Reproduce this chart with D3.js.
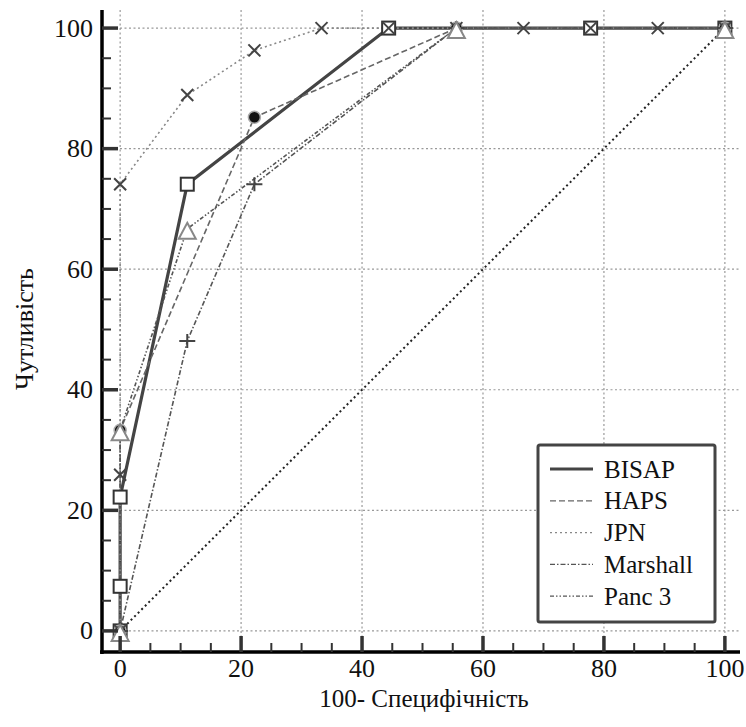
<!DOCTYPE html>
<html>
  <head>
    <meta charset="utf-8">
    <title>ROC</title>
  </head>
  <body style="margin:0; background:#fff">
    <div id="vis"></div>
    <script src="https://d3js.org/d3.v7.min.js"></script>
    <script>
    // data: x = 100 - specificity, y = sensitivity
    let bisap_x = [0, 0, 0, 11.1, 44.4, 77.8, 100];
    let bisap_y = [0, 7.4, 22.2, 74.1, 100, 100, 100];
    let haps_x = [0, 0, 22.2, 55.6, 100];
    let haps_y = [0, 33.3, 85.2, 100, 100];
    let jpn_x = [0, 0, 0, 11.1, 22.2, 33.3, 44.4, 55.6, 66.7, 77.8, 88.9, 100];
    let jpn_y = [0, 25.9, 74.1, 88.9, 96.3, 100, 100, 100, 100, 100, 100, 100];
    let marshall_x = [0, 11.1, 22.2, 55.6, 100];
    let marshall_y = [0, 48.1, 74.1, 100, 100];
    let panc3_x = [0, 0, 11.1, 55.6, 100];
    let panc3_y = [0, 33.3, 66.7, 100, 100];
    let diag_x = [0, 100];
    let diag_y = [0, 100];

    let names = ["BISAP", "HAPS", "JPN", "Marshall", "Panc 3"];
    let major_ticks = [0, 20, 40, 60, 80, 100];
    let minor_ticks = d3.range(0, 101, 5);

    const FONT = "'Liberation Serif'";

    let w = 746, h = 727;
    let svg = d3.select("#vis").append("svg")
                .attr("width", w)
                .attr("height", h);

    let x = d3.scaleLinear().domain([-3, 102.5]).range([102, 740]);
    let y = d3.scaleLinear().domain([-3.5, 103]).range([652, 10]);

    function pts(xs, ys) { return xs.map(function(v, i) { return [v, ys[i]]; }); }

    // grid
    let grid = svg.append("g");
    major_ticks.forEach(function(t) {
      grid.append("line").attr("x1", x(t)).attr("x2", x(t)).attr("y1", y(103)).attr("y2", y(-3.5))
          .style("stroke", "#999").style("stroke-width", 1.2).style("stroke-dasharray", "2,2.5");
      grid.append("line").attr("x1", x(-3)).attr("x2", x(102.5)).attr("y1", y(t)).attr("y2", y(t))
          .style("stroke", "#999").style("stroke-width", 1.2).style("stroke-dasharray", "2,2.5");
    });

    let line = d3.line().x(function(d) { return x(d[0]); }).y(function(d) { return y(d[1]); });

    let styles = {
      "BISAP":    {stroke: "#444", width: 3.2, dash: null},
      "HAPS":     {stroke: "#666", width: 1.6, dash: "6,3"},
      "JPN":      {stroke: "#888", width: 1.6, dash: "2,3"},
      "Marshall": {stroke: "#555", width: 1.6, dash: "5,2,1.5,2"},
      "Panc 3":   {stroke: "#555", width: 1.6, dash: "4,2,1.5,2,1.5,2"}
    };
    let series = {
      "BISAP": pts(bisap_x, bisap_y),
      "HAPS": pts(haps_x, haps_y),
      "JPN": pts(jpn_x, jpn_y),
      "Marshall": pts(marshall_x, marshall_y),
      "Panc 3": pts(panc3_x, panc3_y)
    };

    // reference diagonal
    svg.append("path").attr("d", line(pts(diag_x, diag_y)))
       .style("fill", "none").style("stroke", "#222").style("stroke-width", 2).style("stroke-dasharray", "2,3");

    names.forEach(function(n) {
      let s = styles[n];
      svg.append("path").attr("d", line(series[n]))
         .style("fill", "none").style("stroke", s.stroke).style("stroke-width", s.width)
         .style("stroke-dasharray", s.dash);
    });

    // markers
    svg.selectAll(".sq").data(series["BISAP"]).enter().append("rect")
       .attr("x", function(d) { return x(d[0]) - 6.5; })
       .attr("y", function(d) { return y(d[1]) - 6.5; })
       .attr("width", 13).attr("height", 13)
       .style("fill", "#fff").style("stroke", "#333").style("stroke-width", 2);

    svg.selectAll(".dot").data(series["HAPS"]).enter().append("circle")
       .attr("cx", function(d) { return x(d[0]); })
       .attr("cy", function(d) { return y(d[1]); })
       .attr("r", 6)
       .style("fill", "#111").style("stroke", "#aaa").style("stroke-width", 1.5);

    svg.selectAll(".cross").data(series["JPN"]).enter().append("path")
       .attr("d", function(d) {
         let cx = x(d[0]), cy = y(d[1]), r = 6;
         return "M" + (cx - r) + "," + (cy - r) + "L" + (cx + r) + "," + (cy + r) +
                "M" + (cx - r) + "," + (cy + r) + "L" + (cx + r) + "," + (cy - r);
       })
       .style("stroke", "#444").style("stroke-width", 2);

    svg.selectAll(".plus").data(series["Marshall"]).enter().append("path")
       .attr("d", function(d) {
         let cx = x(d[0]), cy = y(d[1]);
         return "M" + (cx - 8) + "," + cy + "L" + (cx + 8) + "," + cy +
                "M" + cx + "," + (cy - 7) + "L" + cx + "," + (cy + 7);
       })
       .style("stroke", "#444").style("stroke-width", 2);

    svg.selectAll(".tri").data(series["Panc 3"]).enter().append("path")
       .attr("d", function(d) {
         let cx = x(d[0]), cy = y(d[1]);
         return "M" + cx + "," + (cy - 6) + "L" + (cx + 8.5) + "," + (cy + 10) + "L" + (cx - 8.5) + "," + (cy + 10) + "Z";
       })
       .style("fill", "#fff").style("stroke", "#888").style("stroke-width", 2);

    // axes
    let ax = svg.append("g");
    ax.append("line").attr("x1", 102).attr("x2", 102).attr("y1", 10).attr("y2", 654)
      .style("stroke", "#000").style("stroke-width", 3.5);
    ax.append("line").attr("x1", 100).attr("x2", 740).attr("y1", 652).attr("y2", 652)
      .style("stroke", "#000").style("stroke-width", 3.5);

    minor_ticks.forEach(function(t) {
      let major = t % 20 == 0;
      let len = major ? 16 : 9;
      ax.append("line").attr("x1", 102).attr("x2", 102 + len).attr("y1", y(t)).attr("y2", y(t))
        .style("stroke", "#333").style("stroke-width", major ? 3.5 : 2);
      ax.append("line").attr("x1", x(t)).attr("x2", x(t)).attr("y1", 652).attr("y2", 652 - len)
        .style("stroke", "#333").style("stroke-width", major ? 3.5 : 2);
    });

    major_ticks.forEach(function(t) {
      ax.append("text").attr("x", 93).attr("y", y(t) + 8.5)
        .attr("text-anchor", "end")
        .style("font-family", FONT).style("font-size", "26px").style("fill", "#111").text(t);
      ax.append("text").attr("x", x(t)).attr("y", 677)
        .attr("text-anchor", "middle")
        .style("font-family", FONT).style("font-size", "26px").style("fill", "#111").text(t);
    });

    svg.append("text").attr("x", 424).attr("y", 707).attr("text-anchor", "middle")
       .style("font-family", FONT).style("font-size", "25px").style("fill", "#111")
       .text("100- Специфічність");
    svg.append("text").attr("transform", "translate(33,329) rotate(-90)").attr("text-anchor", "middle")
       .style("font-family", FONT).style("font-size", "26px").style("fill", "#111")
       .text("Чутливість");

    // legend
    let lg = svg.append("g");
    lg.append("rect").attr("x", 538).attr("y", 445).attr("width", 177).attr("height", 177).attr("rx", 2)
      .style("fill", "#fff").style("stroke", "#444").style("stroke-width", 3);
    names.forEach(function(n, i) {
      let cy = 469 + i * 31.8;
      let s = styles[n];
      lg.append("line").attr("x1", 550).attr("x2", 593).attr("y1", cy).attr("y2", cy)
        .style("stroke", s.stroke).style("stroke-width", i == 0 ? 3.2 : 1.3)
        .style("stroke-dasharray", s.dash);
      lg.append("text").attr("x", 604).attr("y", cy + 8.5)
        .style("font-family", FONT).style("font-size", "25px").style("fill", "#111").text(n);
    });
    </script>
  </body>
</html>
